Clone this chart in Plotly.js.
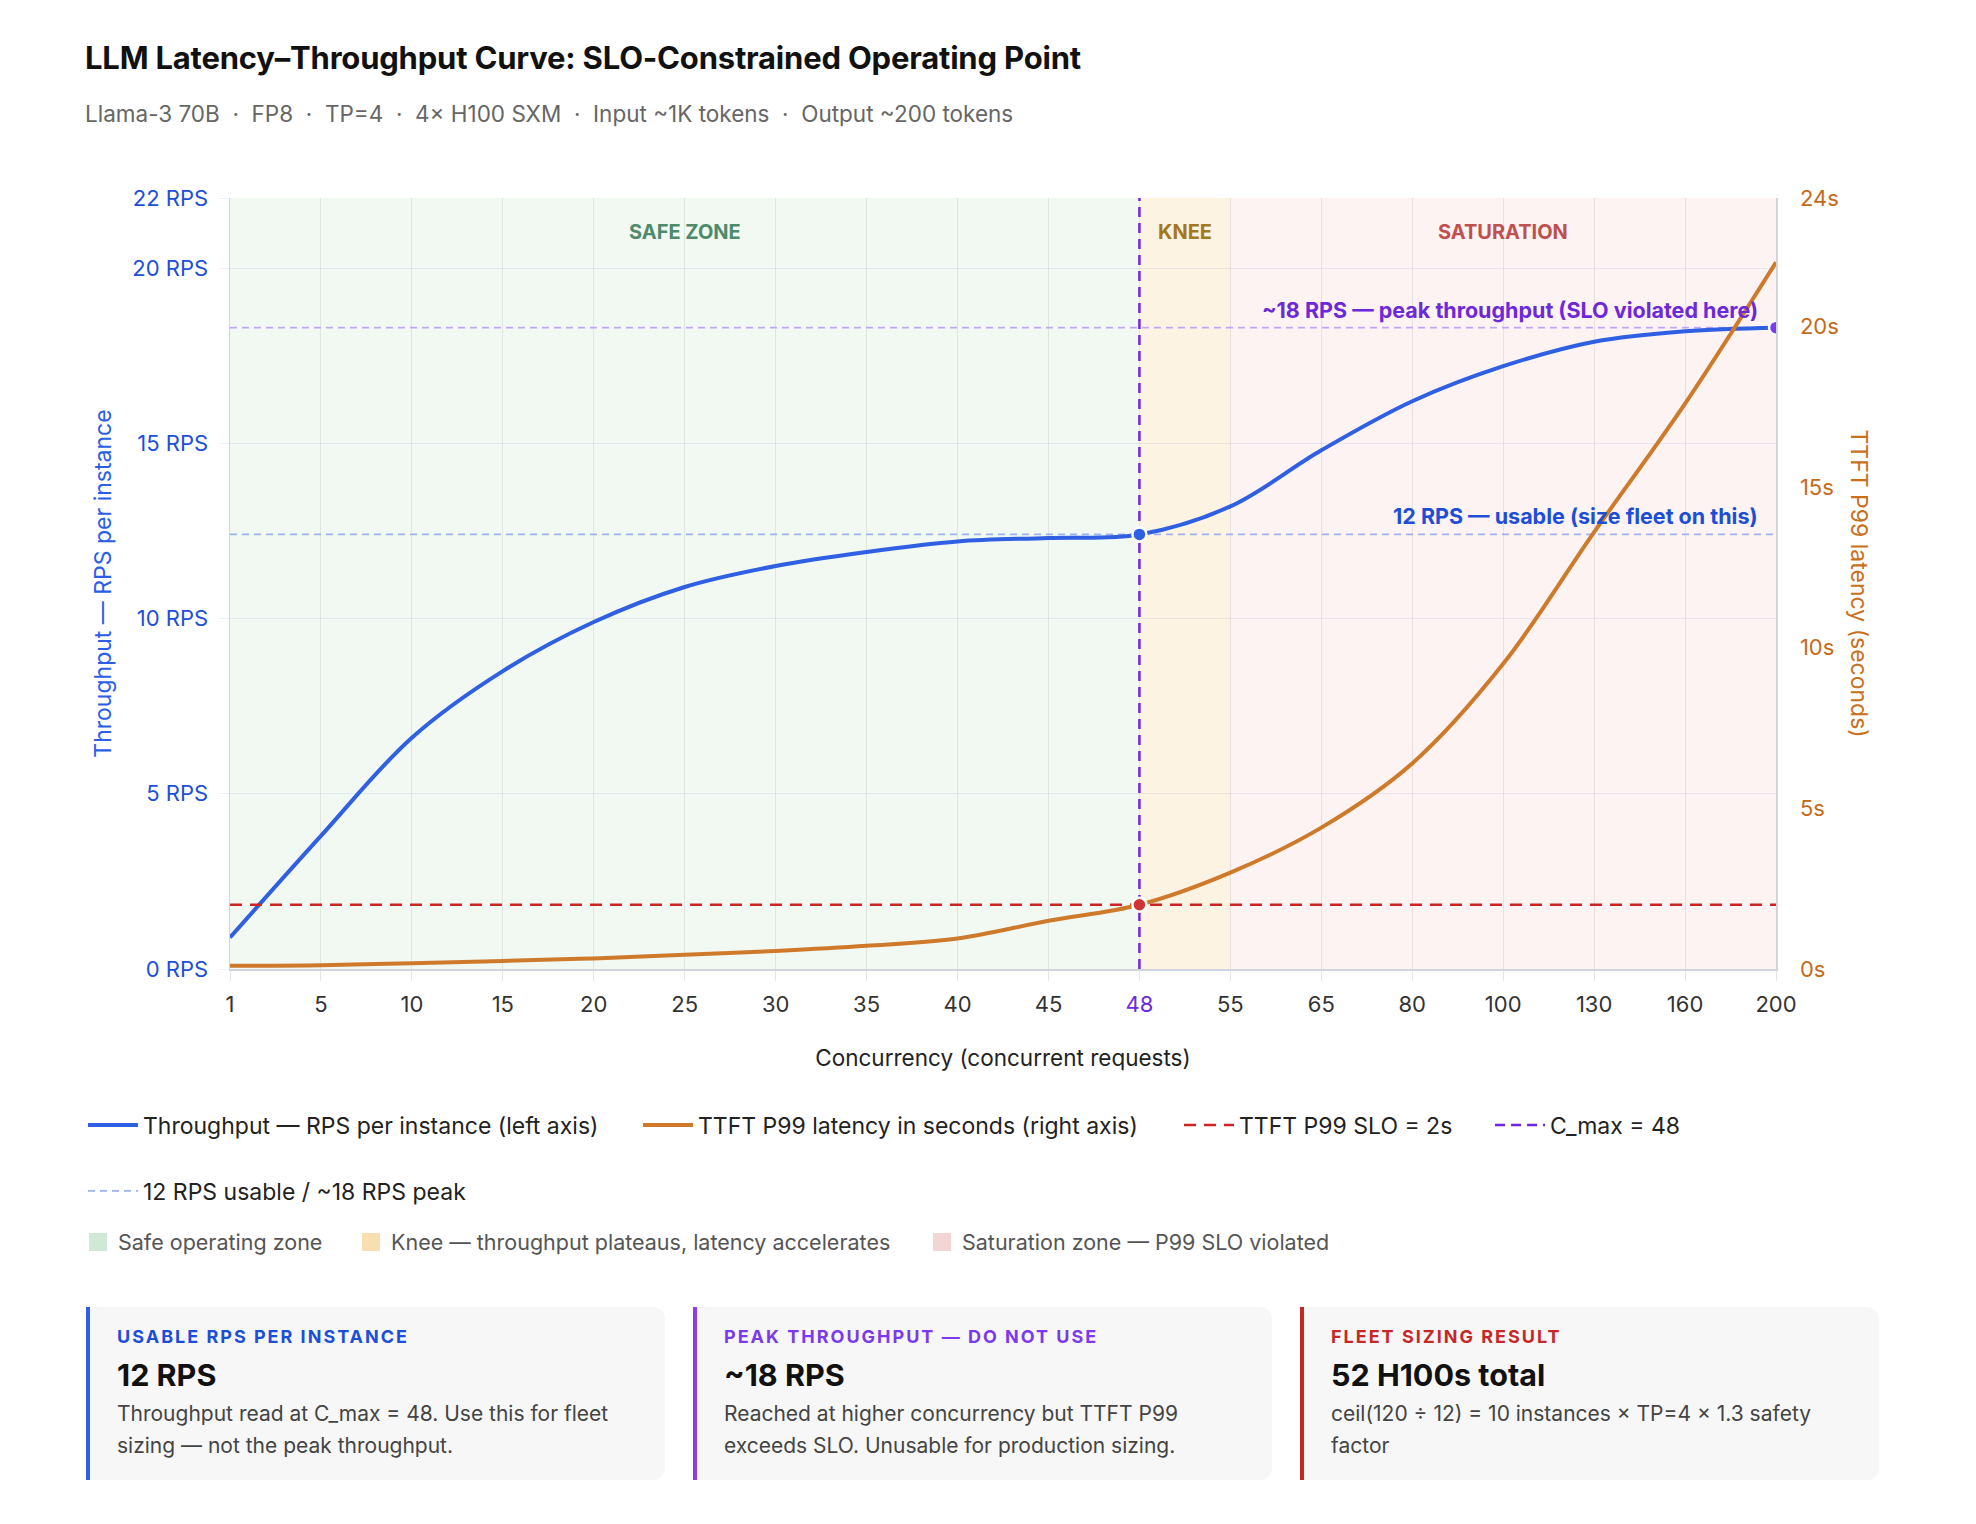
<!DOCTYPE html>
<html>
<head>
<meta charset="utf-8">
<script src="https://cdn.plot.ly/plotly-3.0.1.min.js"></script>
<style>
  html, body { margin: 0; padding: 0; background: #ffffff; }
  body { width: 1976px; height: 1524px; position: relative; font-family: Inter, "Noto Sans", sans-serif; }
  #chart { position: absolute; left: 0; top: 0; width: 1976px; height: 1290px; }
  .head { position: absolute; left: 85px; }
  .title { top: 39px; font-size: 31px; font-weight: 700; color: #111; letter-spacing: -0.2px; }
  .subtitle { top: 100px; font-size: 22.5px; color: #666; white-space: pre; }
  .cards { position: absolute; left: 86px; top: 1307px; display: flex; gap: 28px; }
  .card { width: 548px; height: 173px; background: #f7f7f7; border-left: 4px solid; border-radius: 0 12px 12px 0; padding: 0 0 0 27px; box-sizing: content-box; }
  .card .lab { margin-top: 19px; font-size: 18px; line-height: 22px; font-weight: 700; letter-spacing: 2px; }
  .card .val { margin-top: 8px; font-size: 30.5px; line-height: 37px; font-weight: 700; color: #111; }
  .card .desc { margin-top: 5px; font-size: 21px; color: #444; line-height: 32px; width: 522px; }
</style>
</head>
<body>
<div id="chart"></div>
<div class="head title">LLM Latency–Throughput Curve: SLO-Constrained Operating Point</div>
<div class="head subtitle">Llama-3 70B  ·  FP8  ·  TP=4  ·  4× H100 SXM  ·  Input ~1K tokens  ·  Output ~200 tokens</div>
<div class="cards" id="cards"></div>
<script>
// Concurrency levels (categorical x axis)
const concurrency = ['1','5','10','15','20','25','30','35','40','45','48','55','65','80','100','130','160','200'];
// Throughput, requests per second per instance (left axis)
const throughputRps = [0.9, 3.8, 6.6, 8.5, 9.9, 10.9, 11.5, 11.9, 12.2, 12.3, 12.4, 13.2, 14.8, 16.2, 17.2, 17.9, 18.2, 18.3];
// TTFT P99 latency in seconds (right axis)
const ttftP99 = [0.1, 0.12, 0.18, 0.25, 0.33, 0.44, 0.56, 0.72, 0.95, 1.5, 2.0, 3.0, 4.4, 6.4, 9.5, 13.6, 17.6, 22.0];
// Operating constraints
const sloSeconds = 2;
const cMax = '48';
const kneeEnd = '55';
// Tick values
const leftTicks = [0, 5, 10, 15, 20, 22];
const rightTicks = [0, 5, 10, 15, 20, 24];
// Fleet sizing inputs
const targetRps = 120;
const tpDegree = 4;
const safetyFactor = 1.3;

const BLUE = '#2f5fe3', ORANGE = '#cf7a2b', RED = '#cc2424', PURPLE = '#6d2ae0';
const iMax = concurrency.indexOf(cMax);
const iKnee = concurrency.indexOf(kneeEnd);
const iLast = concurrency.length - 1;
const usable = throughputRps[iMax];
const peak = throughputRps[iLast];
const usableR = Math.round(usable);
const peakR = Math.round(peak);
const first = concurrency[0], last = concurrency[iLast];

// plot area in page pixels
const PL = 230, PR = 1776, PT = 198, PB = 969;
const px = x => (x - PL) / (PR - PL);
const py = y => (PB - y) / (PB - PT);

const swatch = color => ({symbol:'square', size:16, color, line:{color, width:2}});

const traces = [
  // zone swatches (legend only)
  {x:[null], y:[null], mode:'markers', name:'Safe operating zone', legend:'legend3',
   marker:swatch('#cfe9d6'), hoverinfo:'skip'},
  {x:[null], y:[null], mode:'markers', name:'Knee — throughput plateaus, latency accelerates', legend:'legend7',
   marker:swatch('#f8dfb1'), hoverinfo:'skip'},
  {x:[null], y:[null], mode:'markers', name:'Saturation zone — P99 SLO violated', legend:'legend8',
   marker:swatch('#f3d5d5'), hoverinfo:'skip'},
  // usable / peak reference lines
  {x:[first, last], y:[usable, usable], mode:'lines', name:`${usableR} RPS usable / ~${peakR} RPS peak`,
   legend:'legend2', legendgroup:'ref', line:{color:'#9db2ef', width:1.8, dash:'7px,5px'}, hoverinfo:'skip'},
  {x:[first, last], y:[peak, peak], mode:'lines', showlegend:false, legendgroup:'ref',
   line:{color:'#c3a6f2', width:1.8, dash:'7px,5px'}, hoverinfo:'skip'},
  // C_max vertical line
  {x:[cMax, cMax], y:[0, 22], mode:'lines', name:`C_max = ${cMax}`, legend:'legend6',
   line:{color:PURPLE, width:2.5, dash:'10px,6px'}, hoverinfo:'skip'},
  // throughput curve
  {x:concurrency, y:throughputRps, mode:'lines', name:'Throughput — RPS per instance (left axis)', legend:'legend',
   line:{color:BLUE, width:4, shape:'spline', smoothing:1}},
  // SLO line (right axis)
  {x:[first, last], y:[sloSeconds, sloSeconds], yaxis:'y2', mode:'lines', name:`TTFT P99 SLO = ${sloSeconds}s`, legend:'legend5',
   line:{color:RED, width:2.5, dash:'12px,8px'}, hoverinfo:'skip'},
  // latency curve (right axis)
  {x:concurrency, y:ttftP99, yaxis:'y2', mode:'lines', name:'TTFT P99 latency in seconds (right axis)', legend:'legend4',
   line:{color:ORANGE, width:4, shape:'spline', smoothing:1}},
  // operating-point markers
  {x:[cMax], y:[ttftP99[iMax]], yaxis:'y2', mode:'markers', showlegend:false,
   marker:{size:14, color:'#d03434', line:{color:'#ffffff', width:2.5}}},
  {x:[cMax], y:[usable], mode:'markers', showlegend:false,
   marker:{size:14, color:BLUE, line:{color:'#ffffff', width:2.5}}},
  {x:[last], y:[peak], mode:'markers', showlegend:false,
   marker:{size:14, color:'#7c3aed', line:{color:'#ffffff', width:2.5}}}
];

const tickFont = {family:'Inter, sans-serif', size:22};
const tickText = concurrency.map(c => c === cMax ? `<span style="color:${PURPLE}">${c}</span>` : c);

const zone = (x0, x1, color) => ({type:'rect', xref:'x', yref:'paper', x0, x1, y0:0, y1:1,
  fillcolor:color, line:{width:0}, layer:'below'});

const legendAt = (xPage, yPage, size, color, iw) => ({orientation:'h', x:px(xPage - 6), xanchor:'left',
  y:py(yPage), yanchor:'middle', font:{size, color}, bgcolor:'rgba(0,0,0,0)', itemwidth:iw});

const layout = {
  width:1976, height:1290,
  margin:{l:PL, r:1976 - PR, t:PT, b:1290 - PB},
  paper_bgcolor:'#ffffff', plot_bgcolor:'#ffffff',
  font:{family:'Inter, sans-serif', color:'#222'},
  showlegend:true,
  xaxis:{type:'category', categoryorder:'array', categoryarray:concurrency,
    range:[0, iLast], tickvals:concurrency, ticktext:tickText,
    tickfont:Object.assign({color:'#333'}, tickFont),
    showgrid:true, gridcolor:'rgba(0,0,0,0.075)', gridwidth:1,
    ticks:'outside', ticklen:10, tickcolor:'#e4e4e4', ticklabelstandoff:5,
    showline:true, linecolor:'#cfd4e0', linewidth:1.5, zeroline:false,
    title:{text:'Concurrency (concurrent requests)', font:{size:22.5, color:'#222'}, standoff:34}},
  yaxis:{range:[0, 22], tickmode:'array', tickvals:leftTicks, ticktext:leftTicks.map(v => v + ' RPS'),
    tickfont:Object.assign({color:'#1d4fd8'}, tickFont),
    showgrid:true, gridcolor:'rgba(60,90,200,0.09)', zeroline:false,
    ticks:'outside', ticklen:10, tickcolor:'rgba(60,90,200,0.09)', ticklabelstandoff:6,
    showline:true, linecolor:'#d4d4d4', linewidth:1.5,
    title:{text:'Throughput — RPS per instance', font:{size:23, color:'#2a5ee6'}, standoff:14}},
  yaxis2:{range:[0, 24], tickmode:'array', tickvals:rightTicks, ticktext:rightTicks.map(v => v + 's'),
    overlaying:'y', side:'right',
    tickfont:Object.assign({color:'#c76a18'}, tickFont),
    showgrid:false, zeroline:false, ticks:'', ticklabelstandoff:18,
    showline:true, linecolor:'#d4d4d4', linewidth:1.5},
  shapes:[
    zone(0, iMax, 'rgba(70,170,80,0.075)'),
    zone(iMax, iKnee, 'rgba(240,165,30,0.13)'),
    zone(iKnee, iLast, 'rgba(215,80,70,0.07)')
  ],
  annotations:[
    {xref:'x', yref:'paper', x:iMax/2, y:0.974, text:'<b>SAFE ZONE</b>', showarrow:false,
     font:{size:20, color:'#4e8a6c'}},
    {xref:'x', yref:'paper', x:(iMax+iKnee)/2, y:0.974, text:'<b>KNEE</b>', showarrow:false,
     font:{size:20, color:'#a47821'}},
    {xref:'x', yref:'paper', x:(iKnee+iLast)/2, y:0.974, text:'<b>SATURATION</b>', showarrow:false,
     font:{size:20, color:'#c0504e'}},
    {xref:'x', yref:'y', x:iLast, y:peak, xanchor:'right', yanchor:'bottom', xshift:-16, yshift:3,
     text:`<b>~${peakR} RPS — peak throughput (SLO violated here)</b>`, showarrow:false,
     font:{size:21.5, color:'#6d28d9'}},
    {xref:'x', yref:'y', x:iLast, y:usable, xanchor:'right', yanchor:'bottom', xshift:-16, yshift:3,
     text:`<b>${usableR} RPS — usable (size fleet on this)</b>`, showarrow:false,
     font:{size:21.5, color:'#1d4ed8'}},
    {xref:'paper', yref:'paper', x:px(1859), y:0.5, xanchor:'center', yanchor:'middle', textangle:90,
     text:'TTFT P99 latency (seconds)', showarrow:false, font:{size:23, color:'#c9701d'}}
  ],
  legend:legendAt(89, 1125, 23, '#222', 50),
  legend4:legendAt(644, 1125, 23, '#222', 50),
  legend5:legendAt(1185, 1125, 23, '#222', 50),
  legend6:legendAt(1496, 1125, 23, '#222', 50),
  legend2:legendAt(89, 1191, 23, '#222', 50),
  legend3:legendAt(84, 1242, 21.5, '#555', 30),
  legend7:legendAt(357, 1242, 21.5, '#555', 30),
  legend8:legendAt(928, 1242, 21.5, '#555', 30)
};

Plotly.newPlot('chart', traces, layout, {displayModeBar:false, staticPlot:true});

// Summary cards
const instances = Math.ceil(targetRps / usableR);
const gpus = Math.ceil(instances * tpDegree * safetyFactor);
const cards = [
  {color:'#2f5fe3', labColor:'#1d4ed8', lab:'USABLE RPS PER INSTANCE', val:`${usableR} RPS`,
   desc:`Throughput read at C_max = ${cMax}. Use this for fleet sizing — not the peak throughput.`},
  {color:'#8a3ee8', labColor:'#7c3aed', lab:'PEAK THROUGHPUT — DO NOT USE', val:`~${peakR} RPS`,
   desc:'Reached at higher concurrency but TTFT P99 exceeds SLO. Unusable for production sizing.'},
  {color:'#c62828', labColor:'#c62828', lab:'FLEET SIZING RESULT', val:`${gpus} H100s total`,
   desc:`ceil(${targetRps} ÷ ${usableR}) = ${instances} instances × TP=${tpDegree} × ${safetyFactor} safety factor`}
];
const wrap = document.getElementById('cards');
cards.forEach(c => {
  const d = document.createElement('div');
  d.className = 'card';
  d.style.borderLeftColor = c.color;
  d.innerHTML = `<div class="lab" style="color:${c.labColor}">${c.lab}</div><div class="val">${c.val}</div><div class="desc">${c.desc}</div>`;
  wrap.appendChild(d);
});
</script>
</body>
</html>
